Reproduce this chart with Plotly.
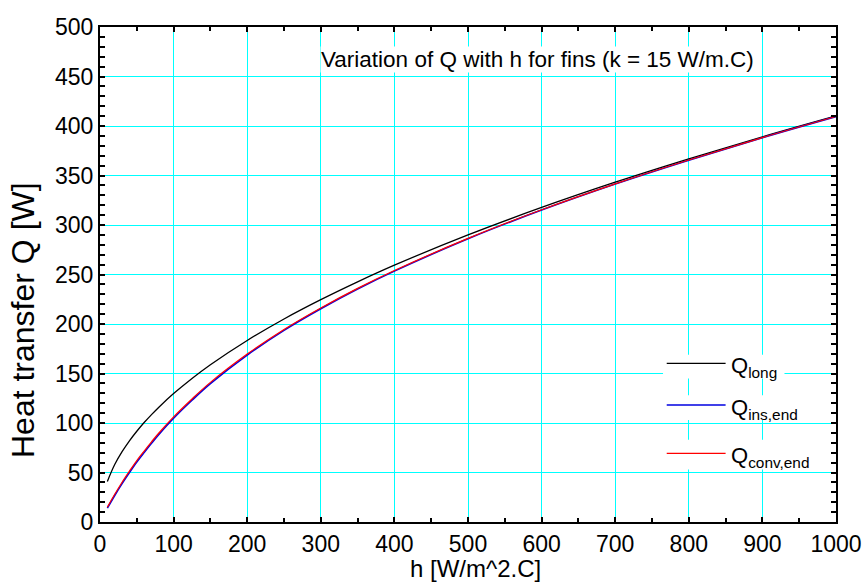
import plotly.graph_objects as go

# Convection coefficient h [W/m^2.C]
h_vals = [10, 20, 30, 40, 50, 60, 70, 80, 100, 125, 150, 200, 250, 300,
          350, 400, 500, 600, 700, 800, 900, 1000]

# Fin heat transfer [W] for the three tip conditions
q_long = [41.0, 58.0, 71.0, 82.0, 91.7, 100.5, 108.5, 116.0, 129.7, 145.0,
          158.9, 183.4, 205.1, 224.6, 242.6, 259.4, 290.0, 317.7, 343.2,
          366.8, 389.1, 410.2]
q_ins_end = [14.0, 26.8, 38.8, 49.9, 60.6, 70.2, 79.5, 88.4, 104.8, 123.0,
             139.8, 168.6, 193.6, 215.4, 235.3, 253.4, 286.1, 315.1, 341.4,
             365.5, 388.2, 409.5]
q_conv_end = [15.0, 28.0, 40.2, 51.4, 62.1, 71.7, 81.0, 89.9, 106.2, 124.3,
              141.0, 169.6, 194.5, 216.2, 236.0, 254.0, 286.5, 315.4, 341.6,
              365.7, 388.3, 409.6]

series = [
    ("Q<sub>long</sub>", q_long, "#000000", 1.3),
    ("Q<sub>ins,end</sub>", q_ins_end, "#0000E0", 1.6),
    ("Q<sub>conv,end</sub>", q_conv_end, "#FF0000", 1.2),
]

FONT = "Liberation Sans, Arial, sans-serif"
H_RANGE = [0, 1000]
Q_RANGE = [0, 500]

fig = go.Figure()
for name, q, color, w in series:
    fig.add_trace(go.Scatter(x=h_vals, y=q, mode="lines", name=name,
                             line=dict(color=color, width=w, shape="spline"),
                             showlegend=False))

# Hand-placed key: white patch, sample line, label
key_rows = [  # (line y, patch bottom, patch top, patch right)
    (160.3, 145, 169, 930),
    (118.2, 103, 128, 958),
    (69.4, 53, 83, 975),
]
shapes = []
annotations = []
for (name, _, color, w), (ly, pb, pt, pr) in zip(series, key_rows):
    shapes.append(dict(type="rect", xref="x", yref="y", x0=765, x1=pr,
                       y0=pb, y1=pt, fillcolor="white", line=dict(width=0),
                       layer="above"))
    shapes.append(dict(type="line", xref="x", yref="y", x0=770, x1=850,
                       y0=ly, y1=ly, line=dict(color=color, width=1.3),
                       layer="above"))
    annotations.append(dict(xref="x", yref="y", x=854, y=ly - 4,
                            xanchor="left", yanchor="middle", showarrow=False,
                            text=name, font=dict(family=FONT, size=22,
                                                 color="black")))

annotations.append(dict(xref="paper", yref="paper", x=(537 - 100) / 736,
                        y=(522 - 60) / 495, xanchor="center",
                        yanchor="middle", showarrow=False,
                        text="Variation of Q with h for fins (k = 15 W/m.C)",
                        bgcolor="white", borderpad=0,
                        font=dict(family=FONT, size=22.5, color="black")))
annotations.append(dict(xref="paper", yref="paper", x=(23 - 100) / 736,
                        y=(522 - 320) / 495, xanchor="center",
                        yanchor="middle", showarrow=False, textangle=-90,
                        text="Heat transfer Q [W]",
                        font=dict(family=FONT, size=32, color="black")))
annotations.append(dict(xref="paper", yref="paper", x=(475 - 100) / 736,
                        y=(522 - 568) / 495, xanchor="center",
                        yanchor="middle", showarrow=False, borderpad=0,
                        text="h [W/m^2.C]",
                        font=dict(family=FONT, size=24, color="black")))

axis_common = dict(
    showgrid=True, gridcolor="#00FFFF", gridwidth=1.2, zeroline=False,
    showline=True, linecolor="black", linewidth=2, mirror="ticks",
    ticks="inside", ticklen=5, tickwidth=1.5, tickcolor="black",
    tickfont=dict(family=FONT, size=23, color="black"),
)
minor_common = dict(ticks="inside", tickwidth=1.5, tickcolor="black",
                    showgrid=False)

fig.update_layout(
    template="none",
    width=865, height=583,
    margin=dict(l=100, r=29, t=27, b=61),
    paper_bgcolor="white", plot_bgcolor="white",
    shapes=shapes, annotations=annotations,
    xaxis=dict(range=H_RANGE, tick0=0, dtick=100,
               minor=dict(dtick=50, ticklen=4, **minor_common),
               **axis_common),
    yaxis=dict(range=Q_RANGE, tick0=0, dtick=50,
               minor=dict(dtick=10, ticklen=5, **minor_common),
               **axis_common),
)

fig.write_html("out.html")
